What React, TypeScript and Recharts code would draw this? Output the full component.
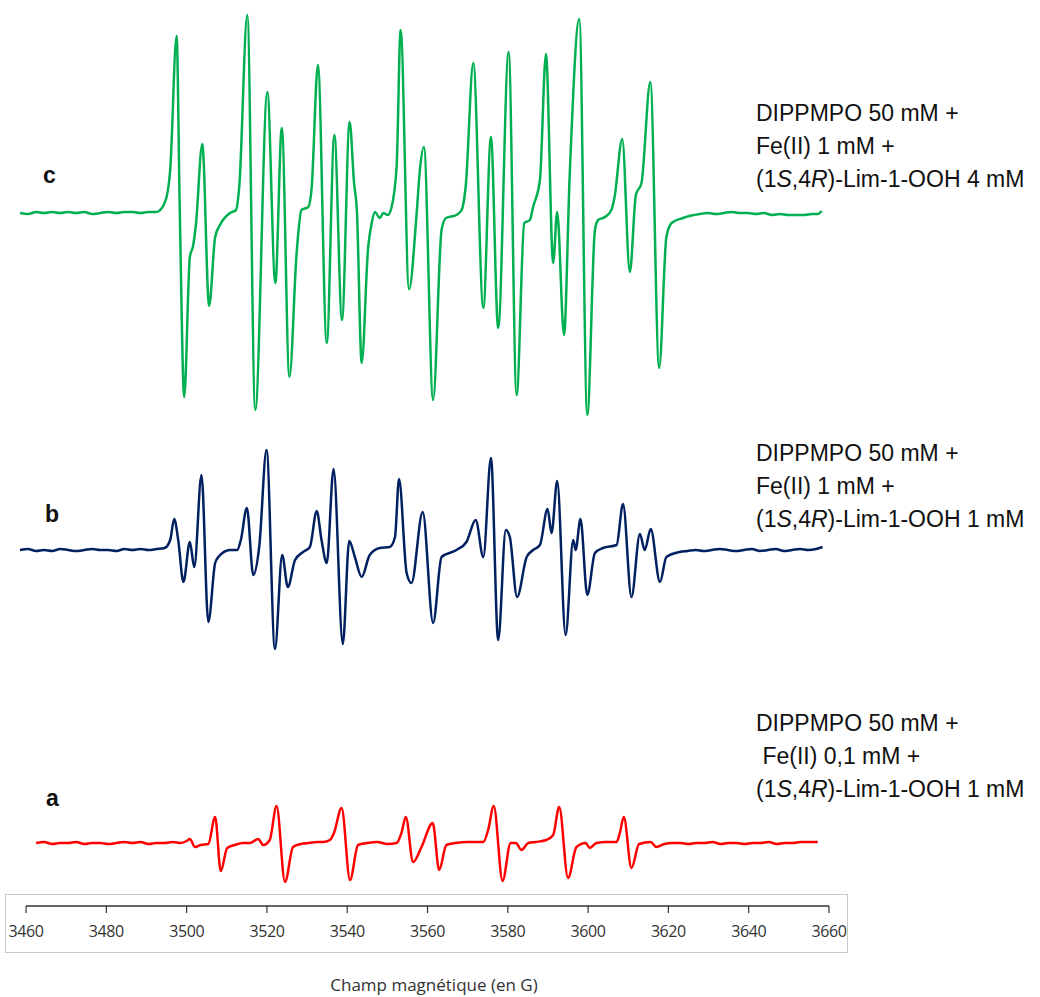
import { LineChart, Line, XAxis, YAxis, ReferenceLine } from 'recharts'

// champ magnétique (G)
const xTicks = [3460, 3480, 3500, 3520, 3540, 3560, 3580, 3600, 3620, 3640, 3660]

// spectre c : DIPPMPO + Fe(II) 1 mM + Lim-1-OOH 4 mM
const cField = [
  3458.5, 3460.5, 3462.5, 3464.5, 3466.5, 3468.5, 3470.5, 3472.5, 3474.5, 3476.5,
  3478.5, 3480.5, 3482.5, 3484.5, 3486.5, 3488.5, 3490.5, 3492.5, 3493.4, 3495.0,
  3495.9, 3497.5, 3498.3, 3499.4, 3500.8, 3501.6, 3502.3, 3503.9, 3505.6, 3507.1,
  3508.3, 3510.8, 3512.3, 3513.1, 3515.1, 3517.1, 3520.1, 3522.1, 3523.7, 3525.6,
  3527.4, 3528.6, 3530.3, 3531.1, 3532.7, 3534.9, 3536.8, 3538.7, 3540.6, 3541.7,
  3542.4, 3543.6, 3545.2, 3546.1, 3546.9, 3548.1, 3549.0, 3550.1, 3551.0, 3552.3,
  3553.3, 3555.4, 3557.3, 3558.1, 3559.1, 3561.4, 3563.5, 3564.6, 3567.2, 3568.5,
  3569.5, 3571.4, 3573.9, 3575.8, 3577.6, 3580.2, 3582.2, 3584.1, 3585.5, 3586.3,
  3588.0, 3589.5, 3591.3, 3592.3, 3594.0, 3595.4, 3597.8, 3599.8, 3601.7, 3602.5,
  3604.2, 3605.8, 3606.6, 3608.5, 3610.4, 3611.9, 3613.3, 3615.5, 3617.7, 3619.5,
  3620.8, 3623.6, 3627.8, 3629.8, 3631.8, 3633.8, 3635.8, 3637.8, 3639.8, 3641.8,
  3643.8, 3645.8, 3647.8, 3649.8, 3651.8, 3653.8, 3655.8, 3657.2, 3658.2,
]
const cSignal = [
  0, -1, 1, 0, 1, 0, 1, 0, 1, -1,
  0, 1, 0, 1, 1, 0, 1, 1, 3, 16,
  43, 177, 0, -184, -44, -33, -12, 69, -93, -24,
  -12, 0, 3, 26, 198, -197, 121, -70, 85, -164,
  -40, 3, 6, 23, 148, -130, 78, -107, 91, 30,
  3, -150, -35, -10, 1, -5, 0, -2, 5, 46,
  183, -76, 0, 43, 66, -187, -17, -5, -2, 3,
  26, 150, -95, 76, -115, 161, -182, -10, -7, 6,
  33, 159, -50, 1, -122, 36, 194, -202, -17, -7,
  -4, 3, 16, 74, -59, 18, 30, 131, -155, -24,
  -10, -5, -1, 0, -1, 0, 1, 0, 0, -1,
  0, -2, -1, -2, -2, -2, -1, -1, 2,
]

// spectre b : DIPPMPO + Fe(II) 1 mM + Lim-1-OOH 1 mM
const bField = [
  3458.5, 3460.5, 3462.5, 3464.5, 3466.5, 3468.5, 3470.5, 3472.5, 3474.5, 3476.5,
  3478.5, 3480.5, 3482.5, 3484.5, 3486.5, 3488.5, 3490.5, 3492.5, 3494.5, 3495.9,
  3496.9, 3497.9, 3499.2, 3500.8, 3501.9, 3503.7, 3505.4, 3507.1, 3507.9, 3510.8,
  3512.6, 3513.5, 3515.0, 3516.6, 3518.1, 3519.9, 3522.0, 3523.8, 3525.2, 3527.0,
  3529.0, 3530.7, 3532.4, 3533.6, 3534.9, 3536.6, 3538.9, 3540.5, 3541.9, 3543.6,
  3545.6, 3548.1, 3550.6, 3551.9, 3552.9, 3554.8, 3556.0, 3558.8, 3561.4, 3563.5,
  3567.2, 3569.7, 3572.0, 3573.9, 3575.8, 3577.6, 3579.5, 3580.5, 3582.3, 3584.7,
  3586.3, 3588.0, 3589.9, 3590.9, 3592.3, 3594.4, 3596.3, 3596.9, 3598.1, 3599.8,
  3601.7, 3603.7, 3607.1, 3608.7, 3610.8, 3612.9, 3614.1, 3615.6, 3617.9, 3619.5,
  3622.8, 3624.8, 3626.8, 3628.8, 3630.8, 3632.8, 3634.8, 3636.8, 3638.8, 3640.8,
  3642.8, 3644.8, 3646.8, 3648.8, 3650.8, 3652.8, 3654.8, 3656.8, 3658.4,
]
const bSignal = [
  0, 1, -1, 0, -1, 1, 0, -1, 0, 1,
  0, 0, -1, 1, 0, 1, 0, 1, 2, 10,
  31, 10, -32, 8, -17, 75, -72, -13, -7, 0,
  0, 10, 42, -25, 4, 100, -99, -5, -37, -10,
  -2, 3, 39, 10, -13, 81, -94, 9, -7, -27,
  -5, 2, 3, 13, 71, -23, -33, 38, -73, -7,
  0, 8, 30, -7, 92, -90, 20, 13, -47, -7,
  0, 5, 41, 17, 69, -85, 10, 0, 31, -45,
  -3, 2, 5, 46, -47, 16, 0, 21, -32, -7,
  -2, -1, 0, -1, 0, 1, 0, -1, 0, 1,
  -1, 0, 1, -1, 0, 1, 0, 1, 3,
]

// spectre a : DIPPMPO + Fe(II) 0,1 mM + Lim-1-OOH 1 mM
const aField = [
  3462.5, 3464.5, 3466.5, 3468.5, 3470.5, 3472.5, 3474.5, 3476.5, 3478.5, 3480.5,
  3482.5, 3484.5, 3486.5, 3488.5, 3490.5, 3492.5, 3494.5, 3496.5, 3498.5, 3500.0,
  3500.8, 3502.1, 3503.5, 3505.4, 3507.1, 3508.5, 3510.1, 3512.0, 3514.0, 3515.8,
  3517.8, 3519.1, 3520.7, 3522.4, 3524.5, 3526.5, 3528.5, 3530.5, 3532.5, 3534.0,
  3535.7, 3536.7, 3538.6, 3540.7, 3542.7, 3545.0, 3547.5, 3550.0, 3552.3, 3553.5,
  3554.6, 3556.4, 3558.5, 3561.3, 3562.9, 3564.7, 3567.0, 3570.0, 3573.9, 3575.1,
  3576.5, 3578.7, 3580.7, 3582.0, 3583.4, 3585.1, 3587.0, 3589.6, 3591.3, 3592.8,
  3595.0, 3597.1, 3599.4, 3600.4, 3602.1, 3604.5, 3607.1, 3607.9, 3608.9, 3610.8,
  3612.7, 3615.6, 3617.0, 3619.0, 3621.0, 3623.0, 3625.0, 3627.0, 3629.0, 3631.0,
  3633.0, 3635.0, 3637.0, 3639.0, 3641.0, 3643.0, 3645.0, 3647.0, 3649.0, 3651.0,
  3653.0, 3655.0, 3657.2,
]
const aSignal = [
  0, 1, -1, 0, 0, 1, -1, 0, 0, -1,
  0, 1, 0, 1, -1, 0, 0, 1, 0, 2,
  4, -4, -2, -1, 26, -28, -5, -2, 0, 0,
  4, -2, 3, 37, -39, -4, -1, 0, 1, 1,
  3, 10, 35, -37, -2, 0, 1, -1, 0, 10,
  26, -19, -4, 20, -27, -2, 0, 1, 1, 13,
  37, -38, 0, 0, -7, 0, 1, 3, 8, 36,
  -35, -4, 0, -5, 0, 1, 1, 10, 26, -25,
  -1, 1, -4, -1, 0, 0, -1, 0, 0, 1,
  -1, 0, 0, -1, 0, 0, 1, -1, 0, 0,
  1, 1, 1,
]

const legendC = ['DIPPMPO 50 mM +', 'Fe(II) 1 mM +', '4 mM']
const legendB = ['DIPPMPO 50 mM +', 'Fe(II) 1 mM +', '1 mM']
const legendA = ['DIPPMPO 50 mM +', '\u00a0Fe(II) 0,1 mM +', '1 mM']

const OFFSET_C = 693
const OFFSET_B = 356
const OFFSET_A = 63

function toSeries(fields: number[], signal: number[], offset: number) {
  return fields.map((f, i) => ({ field: f, y: signal[i] + offset }))
}

const textFont = '"Liberation Sans", Arial, Helvetica, sans-serif'

function Annotation({ lines, top }: { lines: string[]; top: number }) {
  return (
    <div
      style={{
        position: 'absolute',
        left: 756,
        top,
        fontFamily: textFont,
        fontSize: 23,
        lineHeight: '33px',
        color: '#111',
        whiteSpace: 'nowrap',
      }}
    >
      <div>{lines[0]}</div>
      <div>{lines[1]}</div>
      <div>
        (1<i>S</i>,4<i>R</i>)-Lim-1-OOH {lines[2]}
      </div>
    </div>
  )
}

function Letter({ text, left, top }: { text: string; left: number; top: number }) {
  return (
    <div
      style={{
        position: 'absolute',
        left,
        top,
        fontFamily: textFont,
        fontWeight: 700,
        fontSize: 23,
        lineHeight: '23px',
        color: '#111',
      }}
    >
      {text}
    </div>
  )
}

export default function App() {
  const cData = toSeries(cField, cSignal, OFFSET_C)
  const bData = toSeries(bField, bSignal, OFFSET_B)
  const aData = toSeries(aField, aSignal, OFFSET_A)

  return (
    <div style={{ position: 'absolute', left: 0, top: 0, width: 1040, height: 997, background: '#fff' }}>
      <div
        style={{
          position: 'absolute',
          left: 5,
          top: 894,
          width: 843,
          height: 59,
          border: '1px solid #c8c8c8',
          boxSizing: 'border-box',
        }}
      />
      <div style={{ position: 'absolute', left: 0, top: 0 }}>
        <LineChart width={1040} height={997} margin={{ top: 0, right: 203, bottom: 0, left: 10 }}>
          <XAxis
            dataKey="field"
            type="number"
            domain={[3456, 3662]}
            ticks={xTicks}
            height={91}
            axisLine={false}
            tickSize={7}
            tickMargin={13}
            tickLine={{ stroke: '#333', strokeWidth: 1.2 }}
            tick={{ fontSize: 16, fill: '#333', fontFamily: '"Open Sans", sans-serif', letterSpacing: -0.4 }}
          />
          <YAxis type="number" domain={[0, 906]} hide />
          <ReferenceLine
            segment={[
              { x: 3460, y: 0 },
              { x: 3660, y: 0 },
            ]}
            stroke="#333"
            strokeWidth={1.5}
          />
          <Line data={cData} dataKey="y" type="monotone" stroke="#00B050" strokeWidth={2.5} dot={false} isAnimationActive={false} />
          <Line data={bData} dataKey="y" type="monotone" stroke="#002060" strokeWidth={2.5} dot={false} isAnimationActive={false} />
          <Line data={aData} dataKey="y" type="monotone" stroke="#FF0000" strokeWidth={2.5} dot={false} isAnimationActive={false} />
        </LineChart>
      </div>
      <Letter text="c" left={43} top={164} />
      <Letter text="b" left={45} top={503} />
      <Letter text="a" left={46} top={787} />
      <Annotation lines={legendC} top={97} />
      <Annotation lines={legendB} top={437} />
      <Annotation lines={legendA} top={707} />
      <div
        style={{
          position: 'absolute',
          left: 300,
          width: 268,
          top: 974,
          textAlign: 'center',
          fontFamily: '"Open Sans", sans-serif',
          fontSize: 17,
          lineHeight: '22px',
          color: '#333',
        }}
      >
        Champ magnétique (en G)
      </div>
    </div>
  )
}
